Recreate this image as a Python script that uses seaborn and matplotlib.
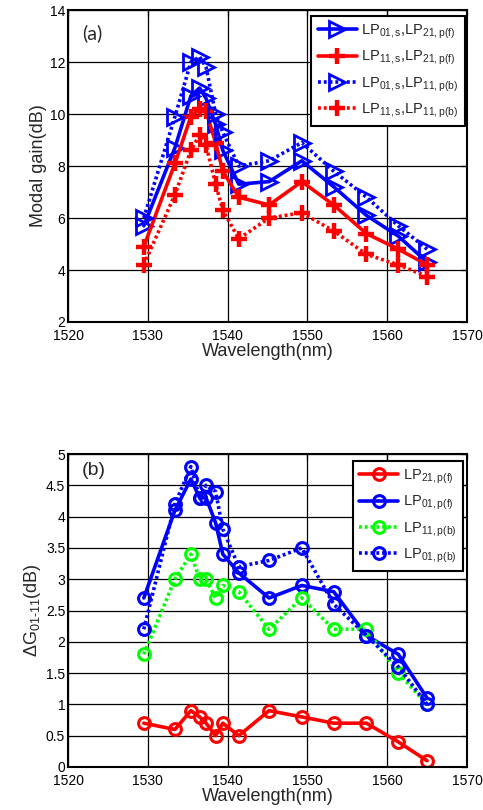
import matplotlib
matplotlib.use("Agg")
import matplotlib.pyplot as plt
import seaborn as sns
import pandas as pd

# Wavelength sample points (nm)
wavelength = [1529.5, 1533.4, 1535.4, 1536.5, 1537.3, 1538.5, 1539.4,
              1541.4, 1545.2, 1549.3, 1553.3, 1557.4, 1561.4, 1565.0]

# (a) modal gain (dB)
gain_01s_21pf = [5.7, 8.7, 10.7, 11.0, 10.6, 9.6, 8.6, 7.3, 7.4, 8.2, 7.2, 6.1, 5.3, 4.3]
gain_11s_21pf = [4.9, 8.1, 9.9, 10.2, 10.1, 8.9, 7.8, 6.8, 6.5, 7.4, 6.5, 5.4, 4.8, 4.2]
gain_01s_11pb = [6.0, 9.9, 12.0, 12.2, 11.8, 10.0, 9.3, 8.0, 8.2, 8.9, 7.8, 6.8, 5.7, 4.8]
gain_11s_11pb = [4.2, 6.9, 8.6, 9.2, 8.8, 7.3, 6.3, 5.2, 6.0, 6.2, 5.5, 4.6, 4.2, 3.75]

# (b) differential modal gain (dB)
dg_21pf = [0.7, 0.6, 0.9, 0.8, 0.7, 0.5, 0.7, 0.5, 0.9, 0.8, 0.7, 0.7, 0.4, 0.1]
dg_01pf = [2.7, 4.1, 4.6, 4.3, 4.3, 3.9, 3.4, 3.1, 2.7, 2.9, 2.8, 2.1, 1.8, 1.1]
dg_11pb = [1.8, 3.0, 3.4, 3.0, 3.0, 2.7, 2.9, 2.8, 2.2, 2.7, 2.2, 2.2, 1.5, 1.0]
dg_01pb = [2.2, 4.2, 4.8, 4.3, 4.5, 4.4, 3.8, 3.2, 3.3, 3.5, 2.6, 2.1, 1.6, 1.0]

labels_a = [r"LP$_{\mathrm{01,s}}$,LP$_{\mathrm{21,p(f)}}$",
            r"LP$_{\mathrm{11,s}}$,LP$_{\mathrm{21,p(f)}}$",
            r"LP$_{\mathrm{01,s}}$,LP$_{\mathrm{11,p(b)}}$",
            r"LP$_{\mathrm{11,s}}$,LP$_{\mathrm{11,p(b)}}$"]
labels_b = [r"LP$_{\mathrm{21,p(f)}}$", r"LP$_{\mathrm{01,p(f)}}$",
            r"LP$_{\mathrm{11,p(b)}}$", r"LP$_{\mathrm{01,p(b)}}$"]

x_ticks = [1520, 1530, 1540, 1550, 1560, 1570]

sns.set_theme(style="white")
plt.rcParams["font.family"] = ["Liberation Sans", "DejaVu Sans"]
plt.rcParams["mathtext.fontset"] = "custom"
plt.rcParams["mathtext.rm"] = "Liberation Sans"
plt.rcParams["mathtext.it"] = "Liberation Sans:italic"
plt.rcParams["mathtext.bf"] = "Liberation Sans:bold"

BLUE, RED, GREEN = "#0000ff", "#ff0000", "#00ff00"
DOT = (0, (0.8, 0.8))

fig = plt.figure(figsize=(4.83, 8.10), dpi=100)
ax_a = fig.add_axes([68 / 483, 1 - 322 / 810, 399 / 483, 312 / 810])
ax_b = fig.add_axes([68 / 483, 1 - 767 / 810, 399 / 483, 313 / 810])


def draw(ax, y, label, color, ls, marker, ms, mew, lw):
    df = pd.DataFrame({"wl": wavelength, "v": y})
    sns.lineplot(data=df, x="wl", y="v", ax=ax, color=color, label=label,
                 estimator=None, sort=False, linestyle=ls, linewidth=lw,
                 marker=marker, markersize=ms, markeredgewidth=mew,
                 markerfacecolor="none", markeredgecolor=color)


# Panel (a)
draw(ax_a, gain_01s_21pf, labels_a[0], BLUE, "-", ">", 12, 2.0, 2.6)
draw(ax_a, gain_11s_21pf, labels_a[1], RED, "-", "+", 11, 3.2, 2.6)
draw(ax_a, gain_01s_11pb, labels_a[2], BLUE, DOT, ">", 12, 2.0, 2.6)
draw(ax_a, gain_11s_11pb, labels_a[3], RED, DOT, "+", 11, 3.2, 2.6)
ax_a.set_ylim(2, 14)
ax_a.set_yticks([2, 4, 6, 8, 10, 12, 14])
ax_a.set_ylabel("Modal gain(dB)", fontsize=13, labelpad=2)
ax_a.text(0.035, 0.955, "(a)", transform=ax_a.transAxes, fontsize=14,
          family=["Lato", "DejaVu Sans"], va="top", ha="left")

# Panel (b)
draw(ax_b, dg_21pf, labels_b[0], RED, "-", "o", 8.5, 2.2, 2.6)
draw(ax_b, dg_01pf, labels_b[1], BLUE, "-", "o", 8.5, 2.2, 2.6)
draw(ax_b, dg_11pb, labels_b[2], GREEN, DOT, "o", 8.5, 2.2, 2.6)
draw(ax_b, dg_01pb, labels_b[3], BLUE, DOT, "o", 8.5, 2.2, 2.6)
ax_b.set_ylim(0, 5)
ax_b.set_yticks([0, 0.5, 1, 1.5, 2, 2.5, 3, 3.5, 4, 4.5, 5])
ax_b.set_yticklabels(["0", "0.5", "1", "1.5", "2", "2.5", "3", "3.5", "4", "4.5", "5"])
ax_b.set_ylabel(r"$\Delta$G$_{\mathrm{01\text{-}11}}$(dB)", fontsize=13, labelpad=2)
ax_b.text(0.035, 0.975, "(b)", transform=ax_b.transAxes, fontsize=14,
          va="top", ha="left")

for ax in (ax_a, ax_b):
    ax.set_xlim(1520, 1570)
    ax.set_xticks(x_ticks)
    ax.set_xlabel("Wavelength(nm)", fontsize=13, labelpad=0)
    ax.grid(True, color="black", linewidth=0.9)
    ax.set_axisbelow(True)
    ax.tick_params(direction="in", length=4, width=0.9, top=True, right=True,
                   labelsize=10, colors="black")
    ax.tick_params(axis="x", pad=5)
    ax.tick_params(axis="y", pad=2)
    for s in ax.spines.values():
        s.set_visible(True)
        s.set_color("black")
        s.set_linewidth(1.5)

legend_kw = dict(loc="upper right", fontsize=10.5, handlelength=2.7,
                 labelspacing=0.55, borderpad=0.45, handletextpad=0.3,
                 borderaxespad=0, fancybox=False, framealpha=1,
                 edgecolor="black")
leg_a = ax_a.legend(bbox_to_anchor=(1 - 2 / 399, 1 - 6 / 312), **legend_kw)
leg_a.get_frame().set_linewidth(1.5)
leg_b = ax_b.legend(bbox_to_anchor=(1 - 4 / 399, 1 - 7 / 313), **legend_kw)
leg_b.get_frame().set_linewidth(1.5)

fig.savefig("out.png", dpi=100)
